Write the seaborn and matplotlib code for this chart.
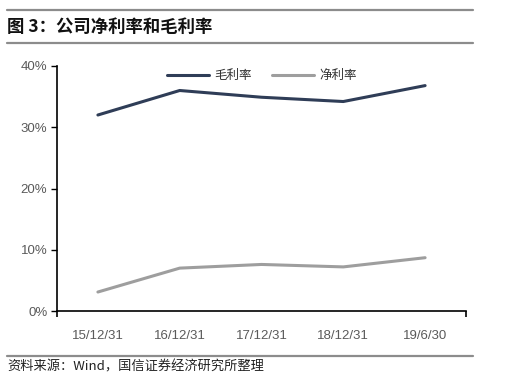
import matplotlib
matplotlib.use("Agg")
import matplotlib.pyplot as plt
import seaborn as sns
import pandas as pd
from matplotlib.ticker import FuncFormatter

# data (%)
periods = ["15/12/31", "16/12/31", "17/12/31", "18/12/31", "19/6/30"]
gross_margin = [32.0, 36.0, 34.9, 34.2, 36.8]
net_margin = [3.1, 7.0, 7.6, 7.2, 8.7]
series_names = ["毛利率", "净利率"]
series_colors = ["#2F3D57", "#9E9E9E"]

sns.set_theme(style="white")
plt.rcParams["font.family"] = ["Liberation Sans", "Noto Sans CJK SC", "DejaVu Sans"]

df = pd.DataFrame({
    "period": periods * 2,
    "x": list(range(len(periods))) * 2,
    "value": gross_margin + net_margin,
    "series": [series_names[0]] * len(periods) + [series_names[1]] * len(periods),
})

fig = plt.figure(figsize=(5.13, 3.84), dpi=100)
ax = fig.add_axes([57 / 513, 1 - 311 / 384, (466 - 57) / 513, (311 - 66) / 384])

sns.lineplot(data=df, x="x", y="value", hue="series", palette=series_colors,
             hue_order=series_names, linewidth=2.2, ax=ax)

ax.set_xlim(-0.5, len(periods) - 0.5)
ax.set_ylim(0, 40)
ax.set_yticks([0, 10, 20, 30, 40])
ax.yaxis.set_major_formatter(FuncFormatter(lambda v, p: f"{v:.0f}%"))
ax.set_xticks(range(len(periods)))
ax.set_xticklabels(periods)
ax.set_xticks([-0.5, len(periods) - 0.5], minor=True)
ax.set_xlabel("")
ax.set_ylabel("")

for s in ["top", "right"]:
    ax.spines[s].set_visible(False)
for s in ["left", "bottom"]:
    ax.spines[s].set_color("black")
    ax.spines[s].set_linewidth(1.2)

ax.tick_params(axis="y", which="major", left=True, length=4, width=1, color="black",
               labelsize=9.5, labelcolor="#5A5A5A", pad=3)
ax.tick_params(axis="x", which="major", bottom=False, labelsize=9.5,
               labelcolor="#5A5A5A", pad=8)
ax.tick_params(axis="x", which="minor", bottom=True, length=4, width=1.2, color="black")

leg = ax.legend(loc="upper center", bbox_to_anchor=(0.5, 1.03), ncol=2, frameon=False,
                fontsize=9, handlelength=3.4, columnspacing=1.6, handletextpad=0.4)
for t in leg.get_texts():
    t.set_color("#333333")

# header / footer rules and text
for yy in [10, 43, 356]:
    fig.add_artist(plt.Line2D([7 / 513, 473 / 513], [1 - yy / 384] * 2,
                              color="#8C8C8C", linewidth=1.6))
fig.text(7 / 513, 1 - 27 / 384, "图 3：公司净利率和毛利率", fontsize=12.5, fontweight="bold",
         va="center", ha="left", color="#111111",
         family=["Noto Sans CJK SC", "DejaVu Sans"])
fig.text(7 / 513, 1 - 367 / 384, "资料来源：Wind，国信证券经济研究所整理", fontsize=9.5,
         va="center", ha="left", color="#222222",
         family=["Noto Sans CJK SC", "DejaVu Sans"])

fig.savefig("out.png", dpi=100)
